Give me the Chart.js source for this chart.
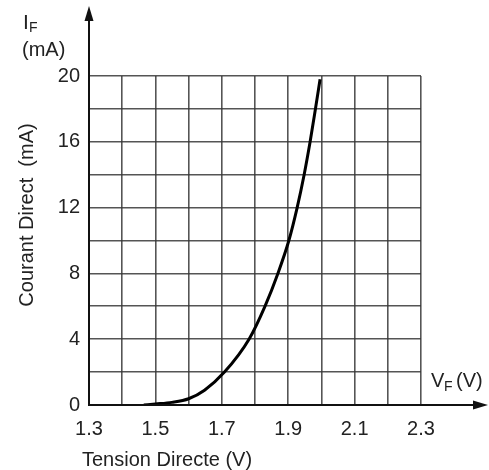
<!DOCTYPE html>
<html>
<head>
  <title>Courant Direct vs Tension Directe</title>
  <script src="https://cdn.jsdelivr.net/npm/chart.js"></script>
  <style>
    body { margin: 0; background: #fff; }
    .chart-container { width: 489px; height: 470px; }
  </style>
</head>
<body>
  <div class="chart-container">
    <canvas id="chart"></canvas>
  </div>

  <script>
    // forward voltage (V) and forward current (mA)
    const tensionV = [1.465, 1.50, 1.55, 1.60, 1.648, 1.708, 1.782, 1.830, 1.869, 1.902, 1.927, 1.948, 1.966, 1.982, 1.996];
    const courantMA = [0, 0.06, 0.16, 0.38, 0.9, 2.0, 4.0, 6.0, 8.0, 10.0, 12.0, 14.0, 16.0, 18.0, 19.8];

    const xTickLabels = ["1.3", "1.5", "1.7", "1.9", "2.1", "2.3"];
    const yTickLabels = ["0", "4", "8", "12", "16", "20"];

    const FONT = "Liberation Sans, Arial, Helvetica, sans-serif";
    const TEXT = "#222";

    // axis arrows and the hand placed labels around the grid
    const axisDecor = {
      id: "axisDecor",
      afterDraw(chart) {
        const ctx = chart.ctx;
        const a = chart.chartArea;
        ctx.save();
        ctx.strokeStyle = "#111";
        ctx.fillStyle = "#111";
        ctx.lineWidth = 2;

        // y axis going up with arrow
        ctx.beginPath();
        ctx.moveTo(a.left, a.bottom);
        ctx.lineTo(a.left, 20);
        ctx.stroke();
        ctx.beginPath();
        ctx.moveTo(a.left, 6);
        ctx.lineTo(a.left - 4.5, 21);
        ctx.lineTo(a.left + 4.5, 21);
        ctx.closePath();
        ctx.fill();

        // x axis going right with arrow
        ctx.beginPath();
        ctx.moveTo(a.left, a.bottom);
        ctx.lineTo(474, a.bottom);
        ctx.stroke();
        ctx.beginPath();
        ctx.moveTo(488, a.bottom);
        ctx.lineTo(473, a.bottom - 4.5);
        ctx.lineTo(473, a.bottom + 4.5);
        ctx.closePath();
        ctx.fill();

        ctx.fillStyle = TEXT;
        ctx.textBaseline = "alphabetic";
        ctx.textAlign = "left";

        // I_F (mA)
        ctx.font = "21px " + FONT;
        ctx.fillText("I", 23, 29);
        ctx.font = "14px " + FONT;
        ctx.fillText("F", 29, 32);
        ctx.font = "20px " + FONT;
        ctx.fillText("(mA)", 22, 56);

        // V_F (V)
        ctx.font = "20px " + FONT;
        ctx.fillText("V", 431, 387);
        ctx.font = "14px " + FONT;
        ctx.fillText("F", 444, 391);
        ctx.font = "20px " + FONT;
        ctx.fillText("(V)", 456, 387);

        // x title
        ctx.font = "20px " + FONT;
        ctx.fillText("Tension Directe (V)", 82, 466);

        // y title
        ctx.translate(33, 215);
        ctx.rotate(-Math.PI / 2);
        ctx.textAlign = "center";
        ctx.fillText("Courant Direct  (mA)", 0, 0);
        ctx.restore();
      }
    };

    const gridColor = "rgba(55, 55, 55, 0.85)";

    const chart = new Chart("chart", {
      type: "scatter",
      data: {
        datasets: [
          {
            label: "IF",
            data: tensionV.map((v, i) => ({ x: v, y: courantMA[i] })),
            showLine: true,
            cubicInterpolationMode: "monotone",
            borderColor: "#000",
            borderWidth: 3,
            pointRadius: 0,
            fill: false,
          },
        ],
      },
      options: {
        responsive: true,
        maintainAspectRatio: false,
        animation: false,
        layout: { padding: { left: 0, right: 68, top: 76, bottom: 0 } },
        plugins: {
          legend: { display: false },
          tooltip: { enabled: false },
        },
        scales: {
          x: {
            type: "linear",
            min: 1.3,
            max: 2.3,
            afterFit: (scale) => { scale.height = 65; },
            afterBuildTicks: (scale) => {
              scale.ticks = [];
              for (let k = 13; k <= 23; k++) scale.ticks.push({ value: k / 10 });
            },
            ticks: {
              autoSkip: false,
              maxRotation: 0,
              padding: 12,
              color: TEXT,
              font: { family: FONT, size: 20 },
              callback: (v) => {
                const s = v.toFixed(1);
                return xTickLabels.includes(s) ? s : "";
              },
            },
            grid: { color: gridColor, lineWidth: 1.6, drawTicks: false },
            border: { color: "#111", width: 2 },
          },
          y: {
            min: 0,
            max: 20,
            afterFit: (scale) => { scale.width = 89; },
            ticks: {
              stepSize: 2,
              padding: 9,
              color: TEXT,
              font: { family: FONT, size: 20 },
              callback: (v) => (yTickLabels.includes(String(v)) ? String(v) : ""),
            },
            grid: { color: gridColor, lineWidth: 1.6, drawTicks: false },
            border: { color: "#111", width: 2 },
          },
        },
      },
      plugins: [axisDecor],
    });
  </script>
</body>
</html>
